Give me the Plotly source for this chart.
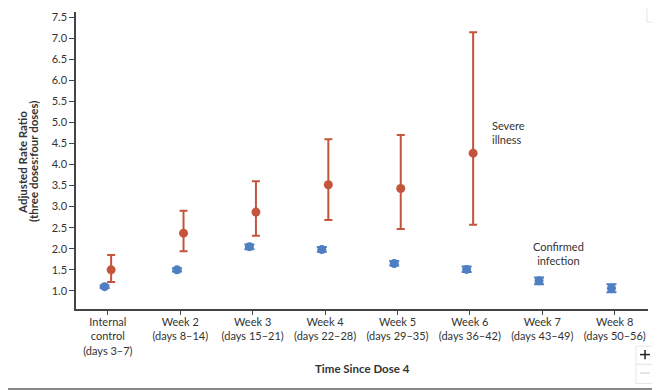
import plotly.graph_objects as go

categories = ["Internal<br>control<br>(days 3–7)", "Week 2<br>(days 8–14)", "Week 3<br>(days 15–21)",
              "Week 4<br>(days 22–28)", "Week 5<br>(days 29–35)", "Week 6<br>(days 36–42)",
              "Week 7<br>(days 43–49)", "Week 8<br>(days 50–56)"]

# Confirmed infection
inf_val = [1.10, 1.50, 2.05, 1.98, 1.65, 1.51, 1.24, 1.06]
inf_lo = [1.07, 1.46, 1.99, 1.93, 1.60, 1.45, 1.16, 0.97]
inf_hi = [1.13, 1.54, 2.10, 2.04, 1.71, 1.58, 1.32, 1.16]

# Severe illness (weeks 7-8 not reported)
sev_val = [1.50, 2.37, 2.87, 3.52, 3.43, 4.27]
sev_lo = [1.21, 1.94, 2.31, 2.68, 2.47, 2.57]
sev_hi = [1.85, 2.90, 3.60, 4.60, 4.70, 7.14]

y_ticks = [1.0, 1.5, 2.0, 2.5, 3.0, 3.5, 4.0, 4.5, 5.0, 5.5, 6.0, 6.5, 7.0, 7.5]

BLUE = "#4f7fc2"
RED = "#c4553c"
TXT = "#333333"
FONT = "Lato"
FS = 11
FS_T = 11.5

offset = 0.045
x_inf = [i - offset for i in range(len(inf_val))]
x_sev = [i + offset for i in range(len(sev_val))]

fig = go.Figure()
fig.add_trace(go.Scatter(
    x=x_inf, y=inf_val, mode="markers",
    marker=dict(color=BLUE, size=9),
    error_y=dict(type="data", symmetric=False,
                 array=[h - v for h, v in zip(inf_hi, inf_val)],
                 arrayminus=[v - l for v, l in zip(inf_val, inf_lo)],
                 color=BLUE, thickness=2, width=5),
    showlegend=False, hoverinfo="skip"))
fig.add_trace(go.Scatter(
    x=x_sev, y=sev_val, mode="markers",
    marker=dict(color=RED, size=9),
    error_y=dict(type="data", symmetric=False,
                 array=[h - v for h, v in zip(sev_hi, sev_val)],
                 arrayminus=[v - l for v, l in zip(sev_val, sev_lo)],
                 color=RED, thickness=2, width=4),
    showlegend=False, hoverinfo="skip"))

fig.add_annotation(x=5.28, y=4.77, text="Severe<br>illness", showarrow=False,
                   xanchor="left", yanchor="middle", align="left",
                   font=dict(family=FONT, size=FS, color=TXT))
fig.add_annotation(x=6.22, y=1.88, text="Confirmed<br>infection", showarrow=False,
                   xanchor="center", yanchor="middle", align="center",
                   font=dict(family=FONT, size=FS, color=TXT))

# axis titles
fig.add_annotation(xref="paper", yref="paper", x=0.5, y=-0.199, text="<b>Time Since Dose 4</b>",
                   showarrow=False, xanchor="center", yanchor="middle",
                   font=dict(family=FONT, size=FS_T, color=TXT))
fig.add_annotation(xref="paper", yref="paper", x=-0.0927, y=0.495,
                   text="<b>Adjusted Rate Ratio</b>",
                   showarrow=False, xanchor="center", yanchor="middle", textangle=-90,
                   font=dict(family=FONT, size=FS_T, color=TXT))
fig.add_annotation(xref="paper", yref="paper", x=-0.0734, y=0.495,
                   text="<b>(three doses:four doses)</b>",
                   showarrow=False, xanchor="center", yanchor="middle", textangle=-90,
                   font=dict(family=FONT, size=FS_T, color=TXT))

# page UI bits (zoom buttons and page border), drawn as shapes
fig.add_shape(type="line", xref="paper", yref="paper", x0=-0.2, x1=1.1, y0=-0.2695, y1=-0.2695,
              line=dict(color="#888888", width=2))
fig.add_shape(type="rect", xref="paper", yref="paper", x0=0.979, x1=1.0105, y0=-0.1245, y1=-0.1865,
              line=dict(color="#e6e6e6", width=1), fillcolor="white")
fig.add_shape(type="rect", xref="paper", yref="paper", x0=0.979, x1=1.0105, y0=-0.1865, y1=-0.2505,
              line=dict(color="#e6e6e6", width=1), fillcolor="white")
fig.add_shape(type="line", xref="paper", yref="paper", x0=0.986, x1=1.0035, y0=-0.1535, y1=-0.1535,
              line=dict(color="#222222", width=1.5))
fig.add_shape(type="line", xref="paper", yref="paper", x0=0.9948, x1=0.9948, y0=-0.1377, y1=-0.1694,
              line=dict(color="#222222", width=1.5))
fig.add_shape(type="line", xref="paper", yref="paper", x0=0.986, x1=1.0035, y0=-0.2155, y1=-0.2155,
              line=dict(color="#cccccc", width=1))
fig.add_shape(type="rect", xref="paper", yref="paper", x0=0.998, x1=1.03, y0=0.966, y1=1.05,
              line=dict(color="#e6e6e6", width=1), fillcolor="white")

# figure is placed 8px from the page's top-left corner; size compensates
fig.update_layout(
    width=652, height=382,
    margin=dict(l=68, r=12, t=4, b=81),
    paper_bgcolor="white", plot_bgcolor="white",
    font=dict(family=FONT, size=FS, color=TXT),
    xaxis=dict(range=[-0.44, 7.46], tickmode="array", tickvals=list(range(len(categories))),
               ticktext=categories, tickangle=0, showgrid=False, zeroline=False, automargin=False,
               showline=True, linecolor="#444444", linewidth=1.5,
               ticks="outside", ticklen=4, tickcolor="#444444", ticklabelstandoff=-2,
               tickfont=dict(family=FONT, size=FS, color=TXT)),
    yaxis=dict(range=[0.57, 7.62], tickmode="array", tickvals=y_ticks,
               ticktext=[f"{v:.1f}" for v in y_ticks], showgrid=False, zeroline=False,
               automargin=False,
               showline=True, linecolor="#444444", linewidth=1.5,
               ticks="outside", ticklen=5, tickcolor="#444444",
               tickfont=dict(family=FONT, size=FS, color=TXT)),
)

fig.write_html("out.html")
